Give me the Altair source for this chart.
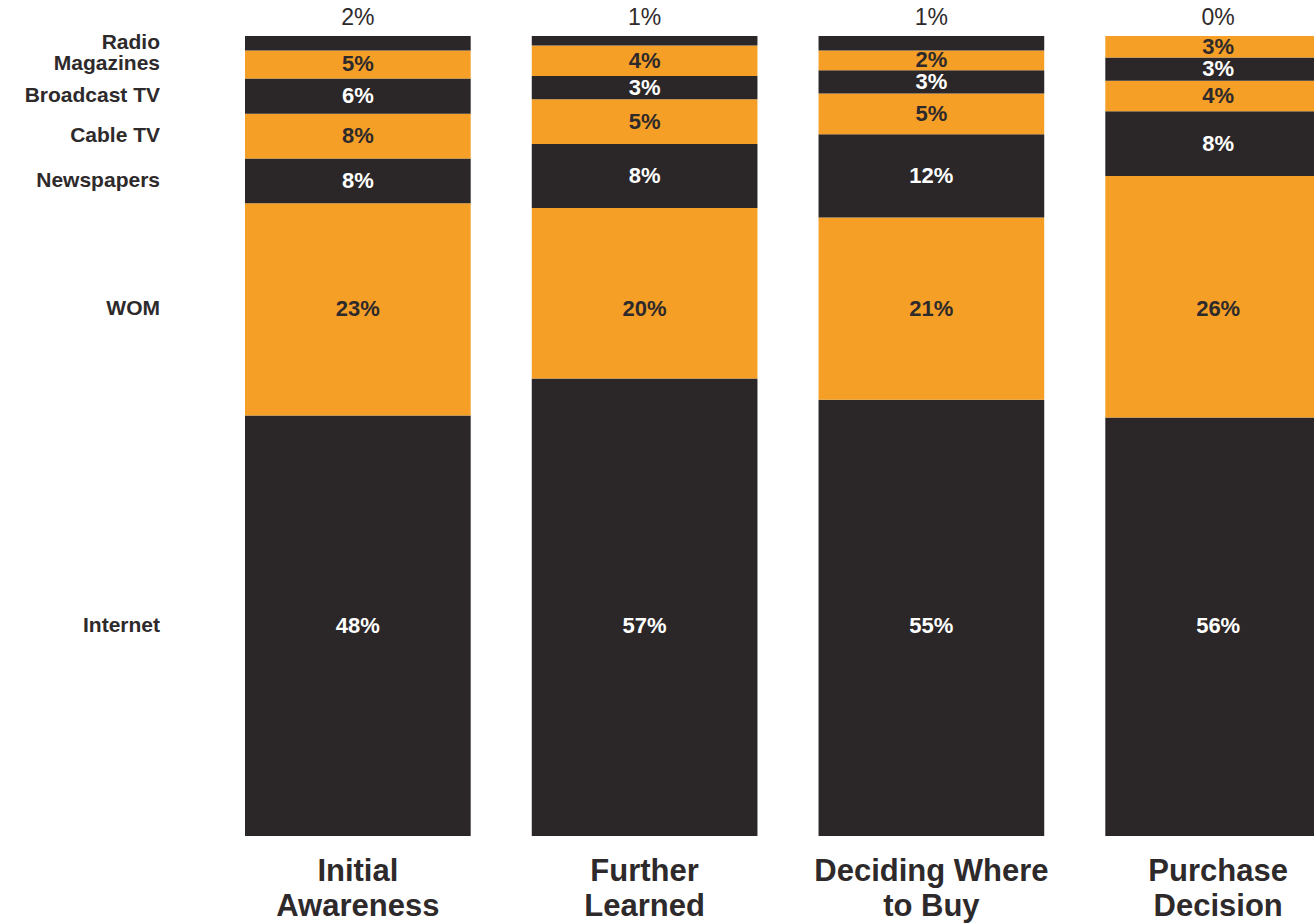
import altair as alt
import pandas as pd

stages = ["Initial Awareness", "Further Learned", "Deciding Where to Buy", "Purchase Decision"]
media = ["Internet", "WOM", "Newspapers", "Cable TV", "Broadcast TV", "Magazines", "Radio"]
media_tone = ["dark", "orange", "dark", "orange", "dark", "orange", "dark"]

# printed percentages (bottom -> top)
printed_initial = [48, 23, 8, 8, 6, 5, 2]
printed_further = [57, 20, 8, 5, 3, 4, 1]
printed_deciding = [55, 21, 12, 5, 3, 2, 1]
printed_purchase = [56, 26, 8, 4, 3, 3, 0]

# drawn segment heights (% of bar height, bottom -> top)
drawn_initial = [52.5, 26.5, 5.6, 5.6, 4.4, 3.5, 1.8]
drawn_further = [57.2, 21.3, 8.0, 5.6, 2.9, 3.8, 1.2]
drawn_deciding = [54.6, 22.8, 10.4, 5.1, 2.9, 2.5, 1.8]
drawn_purchase = [52.3, 30.2, 8.1, 3.8, 2.9, 2.7, 0.0]

printed = [printed_initial, printed_further, printed_deciding, printed_purchase]
drawn = [drawn_initial, drawn_further, drawn_deciding, drawn_purchase]

rows = []
for s, stage in enumerate(stages):
    for m, name in enumerate(media):
        rows.append({
            "stage": stage,
            "media": name,
            "order": m,
            "tone": media_tone[m],
            "share": drawn[s][m],
            "label": f"{printed[s][m]}%",
        })
df = pd.DataFrame(rows)

DARK = "#2b2627"
ORANGE = "#f59f27"
TEXT_DARK = "#2e2a2b"
FONT = "Liberation Sans"

x_enc = alt.X(
    "stage:N",
    sort=stages,
    scale=alt.Scale(range=[0, 1086], paddingInner=0.213, paddingOuter=0),
    axis=alt.Axis(
        title=None, domain=False, ticks=False, labelAngle=0,
        labelFont=FONT, labelFontSize=31, labelFontWeight="bold",
        labelColor=TEXT_DARK, labelPadding=20, labelLineHeight=35,
        labelBaseline="top", labelLimit=0,
        labelExpr="datum.value == 'Deciding Where to Buy' ? ['Deciding Where', 'to Buy'] : split(datum.value, ' ')",
    ),
)
y_scale = alt.Scale(domain=[0, 1], nice=False, zero=True)

base = alt.Chart(df).transform_stack(
    stack="share", groupby=["stage"], as_=["y0", "y1"], offset="normalize",
    sort=[alt.SortField("order", order="ascending")],
).transform_calculate(
    mid="(datum.y0 + datum.y1) / 2",
).transform_calculate(
    first_mid=f"datum.stage == '{stages[0]}' ? datum.mid : null",
).transform_joinaggregate(
    row_mid="max(first_mid)", groupby=["media"],
).transform_calculate(
    label_y="(datum.media == 'Internet' || datum.media == 'WOM') ? datum.row_mid : datum.mid",
)

bars = base.mark_bar(clip=True).encode(
    x=x_enc,
    y=alt.Y("y0:Q", scale=y_scale, axis=None),
    y2="y1:Q",
    color=alt.Color("tone:N", scale=alt.Scale(domain=["dark", "orange"], range=[DARK, ORANGE]), legend=None),
)

seg_text = base.transform_filter(alt.datum.media != "Radio").mark_text(
    font=FONT, fontSize=22, fontWeight="bold", baseline="middle", align="center"
).encode(
    x=alt.X("stage:N", sort=stages),
    y=alt.Y("label_y:Q", scale=y_scale, axis=None),
    text="label:N",
    color=alt.when(alt.datum.tone == "dark").then(alt.value("white")).otherwise(alt.value(TEXT_DARK)),
)

top_text = base.transform_filter(alt.datum.media == "Radio").mark_text(
    font=FONT, fontSize=23, baseline="middle", align="center", color=TEXT_DARK
).encode(
    x=alt.X("stage:N", sort=stages),
    y=alt.value(-18),
    text="label:N",
)

left_text = base.transform_filter(alt.datum.stage == stages[0]).mark_text(
    font=FONT, fontSize=21, fontWeight="bold", baseline="middle", align="right", color=TEXT_DARK
).encode(
    x=alt.value(-85),
    y=alt.Y("mid:Q", scale=y_scale, axis=None),
    text="media:N",
)

chart = alt.layer(bars, seg_text, top_text, left_text).properties(
    width=1069,
    height=800,
    autosize=alt.AutoSizeParams(type="none"),
    padding={"left": 245, "top": 36, "right": 0, "bottom": 88},
    background="white",
).configure_view(stroke=None)

chart.save("out.html", embed_options={"renderer": "svg", "actions": False})
